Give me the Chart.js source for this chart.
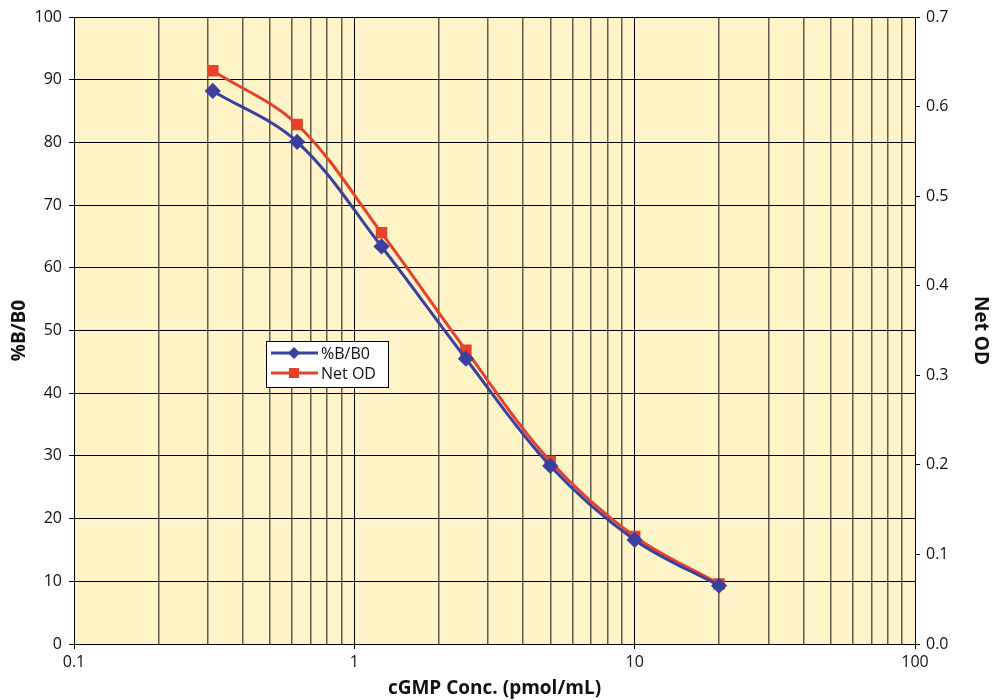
<!DOCTYPE html>
<html>
<head>
<meta charset="utf-8">
<script src="https://cdn.jsdelivr.net/npm/chart.js@4.4.1/dist/chart.umd.min.js"></script>
<style>
  html, body { margin: 0; padding: 0; background: #fff; }
  #wrap { width: 992px; height: 700px; }
</style>
</head>
<body>
<div id="wrap"><canvas id="myChart" width="992" height="700"></canvas></div>
<script>
// standard curve data
const conc = [0.3125, 0.625, 1.25, 2.5, 5, 10, 20];
const pctBB0 = [88.2, 80.1, 63.4, 45.5, 28.4, 16.6, 9.3];
const netOD = [0.640, 0.580, 0.459, 0.328, 0.204, 0.120, 0.067];
const xMajor = [0.1, 1, 10, 100];

const FONT = "'Open Sans', 'DejaVu Sans', sans-serif";
const BLUE = '#3b3f9e';
const RED = '#e5412b';

const isMajor = v => xMajor.some(m => Math.abs(m - v) / m < 1e-6);

// boxed legend inside the plot, like the original worksheet chart
const boxLegend = {
  id: 'boxLegend',
  afterDraw(chart) {
    const ctx = chart.ctx;
    const a = chart.chartArea;
    const x = a.left + 192, y = a.top + 324, w = 122, h = 46;
    ctx.save();
    ctx.fillStyle = '#fff';
    ctx.fillRect(x, y, w, h);
    ctx.strokeStyle = '#000';
    ctx.lineWidth = 1;
    ctx.strokeRect(x + 0.5, y + 0.5, w, h);
    chart.data.datasets.forEach((ds, i) => {
      const ly = y + 12 + i * 20;
      ctx.strokeStyle = ds.borderColor;
      ctx.lineWidth = 3;
      ctx.beginPath();
      ctx.moveTo(x + 5, ly);
      ctx.lineTo(x + 52, ly);
      ctx.stroke();
      ctx.fillStyle = ds.backgroundColor;
      ctx.beginPath();
      if (ds.pointStyle === 'rectRot') {
        ctx.moveTo(x + 28, ly - 6); ctx.lineTo(x + 34, ly);
        ctx.lineTo(x + 28, ly + 6); ctx.lineTo(x + 22, ly);
        ctx.closePath();
      } else {
        ctx.rect(x + 23, ly - 5, 10, 10);
      }
      ctx.fill();
      ctx.fillStyle = '#111';
      ctx.font = '16px ' + FONT;
      ctx.textBaseline = 'middle';
      ctx.fillText(ds.label, x + 55, ly + 1);
    });
    ctx.restore();
  }
};

const ctx = document.getElementById('myChart').getContext('2d');
new Chart(ctx, {
  type: 'line',
  data: {
    datasets: [{
      label: '%B/B0',
      data: conc.map((c, i) => ({ x: c, y: pctBB0[i] })),
      yAxisID: 'y',
      borderColor: BLUE,
      backgroundColor: BLUE,
      borderWidth: 3,
      pointStyle: 'rectRot',
      pointRadius: 6,
      tension: 0.35,
    }, {
      label: 'Net OD',
      data: conc.map((c, i) => ({ x: c, y: netOD[i] })),
      yAxisID: 'y1',
      borderColor: RED,
      backgroundColor: RED,
      borderWidth: 3,
      pointStyle: 'rect',
      pointRadius: 6,
      tension: 0.35,
    }]
  },
  options: {
    responsive: false,
    animation: false,
    layout: { padding: { top: 17, left: 0, right: 0, bottom: 0 } },
    plugins: { legend: { display: false }, tooltip: { enabled: false } },
    scales: {
      x: {
        type: 'logarithmic',
        min: 0.1,
        max: 100,
        afterBuildTicks(scale) {
          const t = [];
          for (let e = -1; e < 2; e++) {
            for (let m = 1; m < 10; m++) t.push({ value: m * Math.pow(10, e) });
          }
          t.push({ value: 100 });
          scale.ticks = t;
        },
        afterFit(scale) { scale.height = 56; },
        grid: {
          color: c => isMajor(c.tick.value) ? '#000' : '#5f5b4a',
          lineWidth: c => isMajor(c.tick.value) ? 1 : 1.5,
          tickColor: c => isMajor(c.tick.value) ? '#000' : 'rgba(0,0,0,0)',
          tickLength: 5,
        },
        border: { color: '#000', width: 1 },
        ticks: {
          autoSkip: false,
          maxRotation: 0,
          padding: 4,
          color: '#111',
          font: { family: FONT, size: 16 },
          callback: v => isMajor(v) ? String(v) : '',
        },
        title: {
          display: true,
          text: 'cGMP Conc. (pmol/mL)',
          color: '#111',
          font: { family: FONT, size: 19, weight: 'bold' },
          padding: 0,
        }
      },
      y: {
        position: 'left',
        min: 0,
        max: 100,
        afterFit(scale) { scale.width = 74; },
        ticks: {
          stepSize: 10,
          padding: 7,
          color: '#111',
          font: { family: FONT, size: 16 },
        },
        grid: { color: '#000', lineWidth: 1, tickLength: 5 },
        border: { color: '#000', width: 1 },
        title: {
          display: true,
          text: '%B/B0',
          color: '#111',
          font: { family: FONT, size: 19, weight: 'bold' },
          padding: { top: 8, bottom: 0 },
        }
      },
      y1: {
        position: 'right',
        min: 0,
        max: 0.7,
        afterFit(scale) { scale.width = 77; },
        ticks: {
          stepSize: 0.1,
          padding: 6,
          color: '#111',
          font: { family: FONT, size: 16 },
          callback: v => v.toFixed(1),
        },
        grid: { drawOnChartArea: false, color: '#000', tickLength: 5 },
        border: { color: '#000', width: 1 },
        title: {
          display: true,
          text: 'Net OD',
          color: '#111',
          font: { family: FONT, size: 19, weight: 'bold' },
          padding: { top: 0, bottom: 0 },
        }
      }
    }
  },
  plugins: [{
    id: 'plotBg',
    beforeDraw(chart) {
      const a = chart.chartArea;
      chart.ctx.save();
      chart.ctx.fillStyle = '#fff4c8';
      chart.ctx.fillRect(a.left, a.top, a.right - a.left, a.bottom - a.top);
      chart.ctx.restore();
    }
  }, boxLegend]
});
</script>
</body>
</html>
